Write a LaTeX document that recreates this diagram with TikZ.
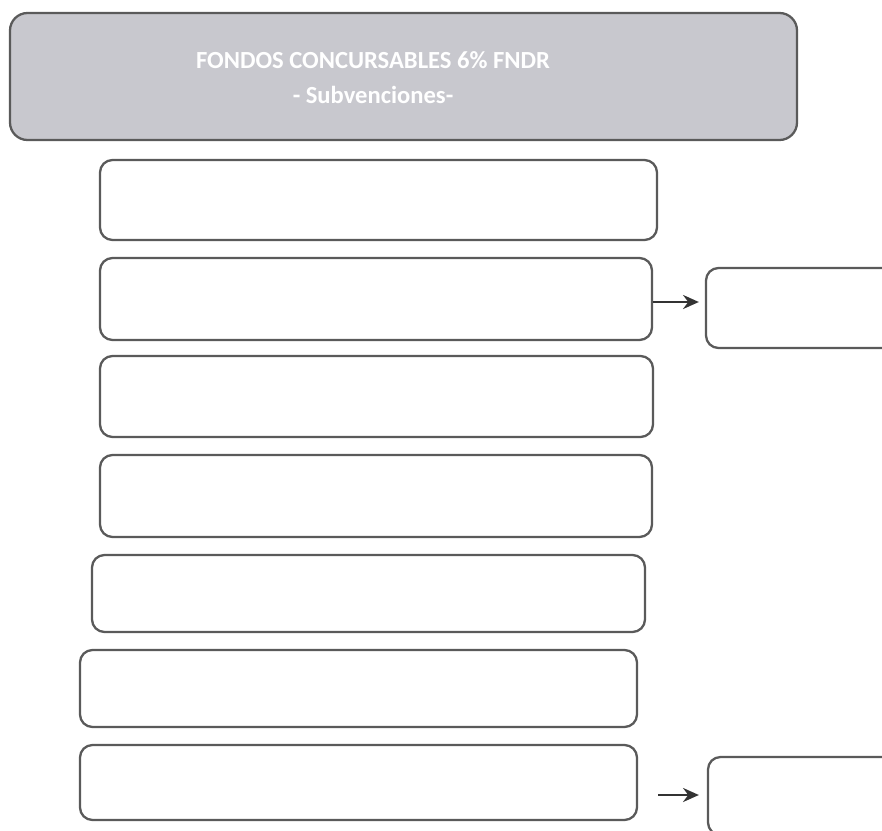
\documentclass[tikz,border=0pt]{standalone}
\usepackage{fontspec}
\setmainfont{Carlito}
\usetikzlibrary{arrows.meta}
\definecolor{edgegray}{HTML}{5A5A5A}
\definecolor{headgray}{HTML}{C8C8CE}
\begin{document}
\begin{tikzpicture}[
   blank/.style={draw=edgegray, line width=1.3pt, rounded corners=0.25cm, fill=white, inner sep=0pt},
   headbox/.style={blank, fill=headgray, rounded corners=0.35cm},
   link/.style={-{Stealth[length=9pt,width=8pt]}, line width=1.3pt, black!80}
  ]
   \useasboundingbox (0,0) rectangle (17.64,-16.6);
   % header
   \node[headbox, minimum width=15.74cm, minimum height=2.54cm] (head) at (8.07,-1.53) {};
   \node[white, align=center, font=\bfseries\fontsize{14}{20}\selectfont] (title) at (7.46,-1.55)
     {FONDOS CONCURSABLES 6\% FNDR\\- Subvenciones-};
   % empty boxes
   \foreach \n/\x/\y/\w/\h in
     { 1/7.57/-4.00/11.14/1.60,
       2/7.52/-5.98/11.04/1.64,
       3/7.53/-7.93/11.06/1.62,
       4/7.52/-9.92/11.04/1.64,
       5/7.37/-11.87/11.06/1.54,
       6/7.17/-13.77/11.14/1.54,
       7/7.17/-15.65/11.14/1.50
     }
     \node[blank, minimum width=\w cm, minimum height=\h cm] (b\n) at (\x,\y) {};
   \node[blank, minimum width=3.88cm, minimum height=1.60cm] (r1) at (16.06,-6.16) {};
   \node[blank, minimum width=3.84cm, minimum height=1.56cm] (r2) at (16.08,-15.92) {};
   % arrows
   \draw[link, shorten >=0.12cm] ([yshift=-0.06cm]b2.east) -- ([yshift=-0.06cm]b2.east -| r1.west);
   \draw[link, shorten <=0.4cm, shorten >=0.16cm] ([yshift=-0.25cm]b7.east) -- ([yshift=-0.25cm]b7.east -| r2.west);
\end{tikzpicture}
\end{document}
